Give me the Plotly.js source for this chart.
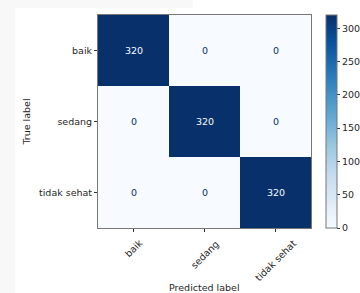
<!DOCTYPE html>
<html>
<head>
<meta charset="utf-8">
<script src="https://cdn.plot.ly/plotly-3.0.1.min.js"></script>
<style>
html,body{margin:0;padding:0;background:#fff;}
#bg1{position:absolute;left:0;top:0;width:193px;height:8px;background:#f8f8f8;}
#bg2{position:absolute;left:0;top:0;width:15px;height:293px;background:#f8f8f8;}
#chart{position:absolute;left:0;top:0;width:360px;height:293px;}
</style>
</head>
<body>
<div id="bg1"></div><div id="bg2"></div>
<div id="chart"></div>
<script>
const predictedLabels = ["baik", "sedang", "tidak sehat"];
const trueLabels = ["baik", "sedang", "tidak sehat"];
const counts = [
  [320, 0, 0],
  [0, 320, 0],
  [0, 0, 320]
];
const colorTicks = [0, 50, 100, 150, 200, 250, 300];

const blues = [
  [0, "#f7fbff"], [0.125, "#deebf7"], [0.25, "#c6dbef"], [0.375, "#9ecae1"],
  [0.5, "#6baed6"], [0.625, "#4292c6"], [0.75, "#2171b5"], [0.875, "#08519c"], [1, "#08306b"]
];
const font = {family: "DejaVu Sans", size: 9.5, color: "#262626"};
const zmax = Math.max(...counts.flat());
const annotations = [];
counts.forEach((row, i) => row.forEach((v, j) => {
  annotations.push({
    x: predictedLabels[j], y: trueLabels[i], text: String(v), showarrow: false,
    font: {family: "DejaVu Sans", size: 9.5, color: v > zmax / 2 ? "#f7fbff" : "#08306b"}
  });
}));
// rotated x tick labels centred on their ticks (matplotlib style)
predictedLabels.forEach(lbl => {
  annotations.push({
    x: lbl, xref: "x", y: 0, yref: "paper", yanchor: "top", xanchor: "center",
    yshift: -7, text: lbl, textangle: -45, showarrow: false, font: font
  });
});
annotations.push({
  x: 0.5, xref: "paper", y: 0, yref: "paper", yanchor: "middle", xanchor: "center",
  yshift: -59, text: "Predicted label", showarrow: false, font: font
});

Plotly.newPlot("chart", [{
  type: "heatmap",
  x: predictedLabels, y: trueLabels, z: counts,
  colorscale: blues, zmin: 0, zmax: zmax,
  showscale: true, hoverinfo: "none",
  colorbar: {
    x: 1.07, xanchor: "left", y: 0.5, yanchor: "middle", len: 1, lenmode: "fraction",
    thickness: 11, thicknessmode: "pixels", xpad: 0, ypad: 0,
    outlinewidth: 1, outlinecolor: "#777",
    tickvals: colorTicks, ticks: "outside", ticklen: 3, tickcolor: "#333",
    tickfont: font
  }
}], {
  width: 360, height: 293,
  margin: {l: 98, r: 49, t: 15, b: 65, autoexpand: false},
  paper_bgcolor: "rgba(0,0,0,0)", plot_bgcolor: "#fff",
  font: font,
  annotations: annotations,
  xaxis: {
    showticklabels: false, ticks: "outside", ticklen: 3, tickcolor: "#333",
    showline: true, mirror: true, linecolor: "#777", linewidth: 1
  },
  yaxis: {
    autorange: "reversed", ticks: "outside", ticklen: 3, tickcolor: "#333",
    showline: true, mirror: true, linecolor: "#777", linewidth: 1,
    title: {text: "True label", font: font, standoff: 6}, tickfont: font
  }
}, {staticPlot: true});
</script>
</body>
</html>
